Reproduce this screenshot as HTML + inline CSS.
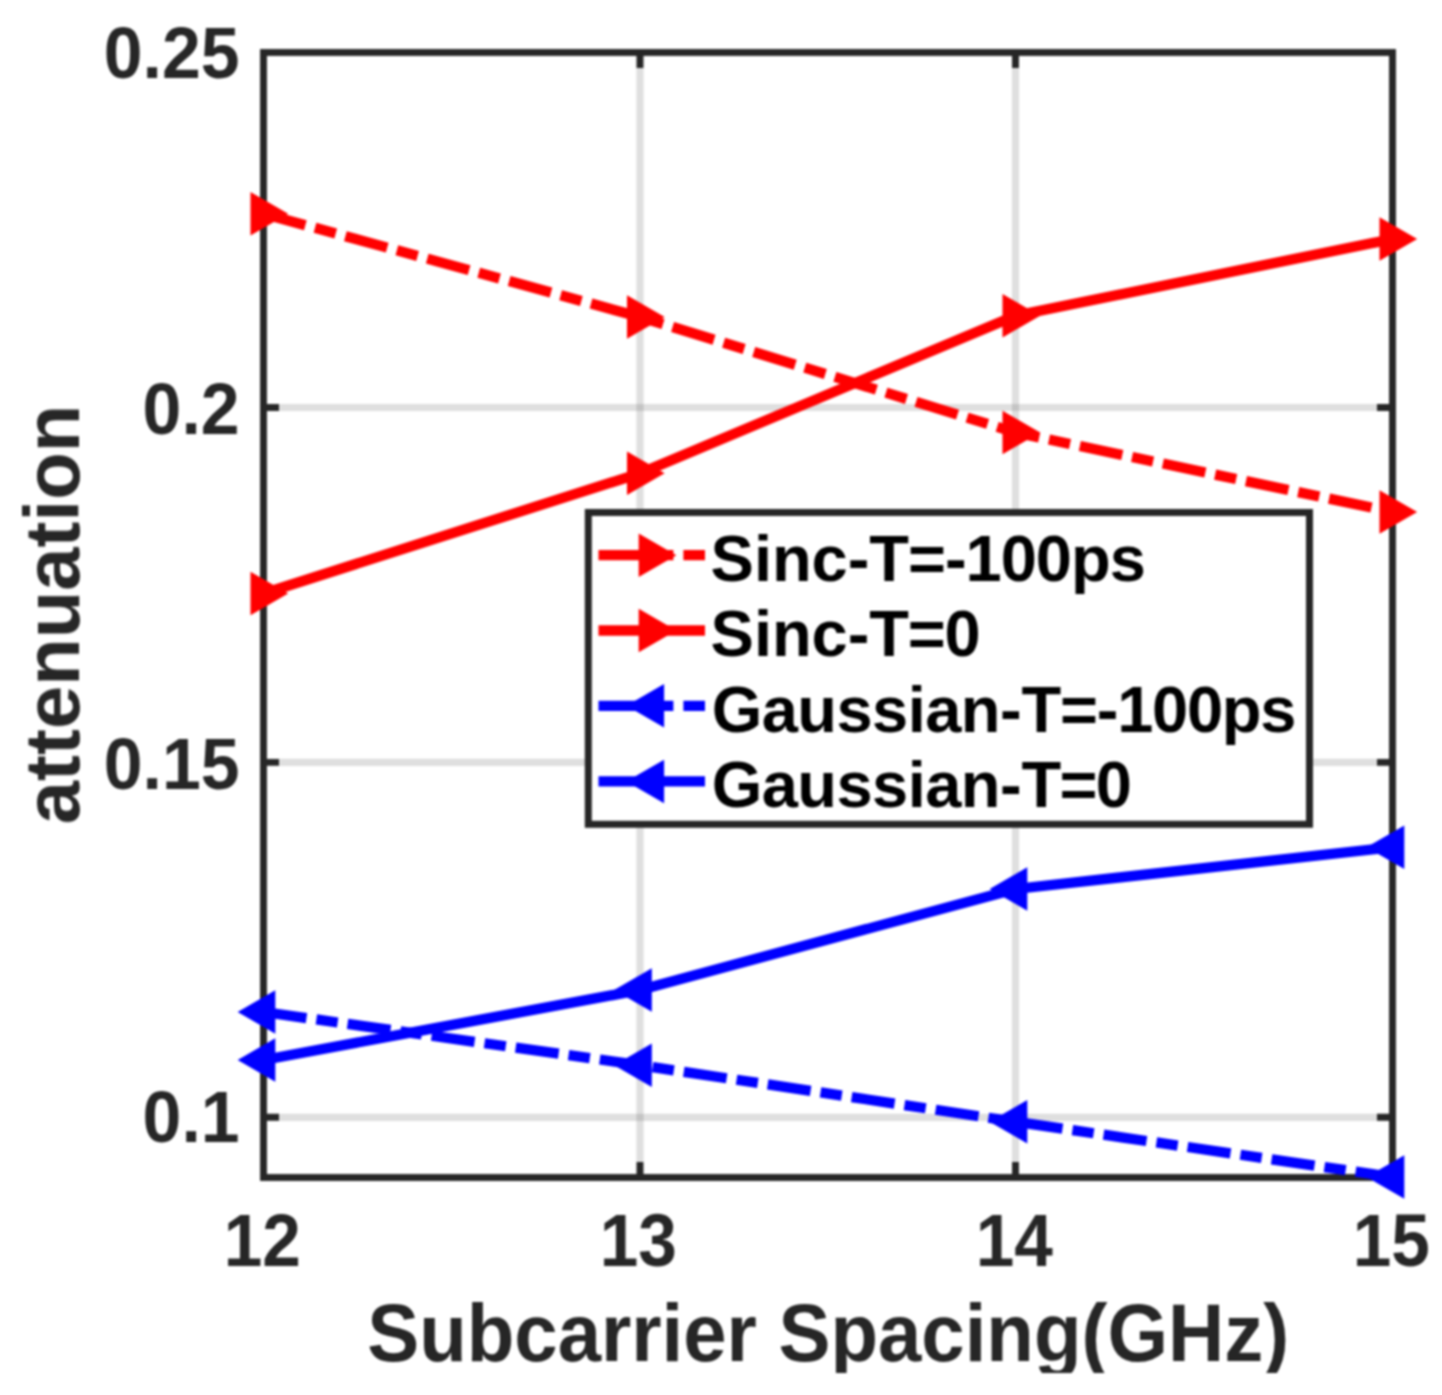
<!DOCTYPE html>
<html lang="en"><head><meta charset="utf-8"><title>attenuation vs Subcarrier Spacing</title>
<style>
html,body{margin:0;padding:0;background:#fff;}
body{width:1442px;height:1395px;overflow:hidden;}
svg{display:block;}
text{font-family:"Liberation Sans",Arial,Helvetica,sans-serif;font-weight:bold;}
.tk{font-size:72.6px;fill:#262626;}
.lb{font-size:81px;fill:#262626;}
.lg{font-size:65px;fill:#000;}
</style></head><body>
<svg width="1442" height="1395" viewBox="0 0 1442 1395">
<rect x="0" y="0" width="1442" height="1395" fill="#fff"/>
<defs><filter id="soft" color-interpolation-filters="sRGB" x="0" y="0" width="1442" height="1395" filterUnits="userSpaceOnUse"><feGaussianBlur stdDeviation="0.9"/></filter></defs>
<g id="chart" filter="url(#soft)">

<g stroke="#262626" stroke-opacity="0.15" stroke-width="7.2" fill="none">
<path d="M640.0 52.5V1177.5"/>
<path d="M1015.5 52.5V1177.5"/>
<path d="M263.5 407.5H1392.5"/>
<path d="M263.5 762.4H1392.5"/>
<path d="M263.5 1117.3H1392.5"/>
</g>
<g stroke="#262626" stroke-width="6.9" fill="none">
<rect x="263.5" y="52.5" width="1129.0" height="1125.0"/>
<path d="M640.0 1177.5v-15.5M640.0 52.5v15.5"/>
<path d="M1015.5 1177.5v-15.5M1015.5 52.5v15.5"/>
<path d="M263.5 407.5h15.5M1392.5 407.5h-15.5"/>
<path d="M263.5 762.4h15.5M1392.5 762.4h-15.5"/>
<path d="M263.5 1117.3h15.5M1392.5 1117.3h-15.5"/>
</g>
<g fill="none" stroke-width="10.3" stroke-linejoin="miter">
<path d="M263.50 213.70L640.00 317.00L1015.50 432.50L1392.50 512.00" stroke="#f00" stroke-dasharray="43.4 10 21.5 10"/>
<path d="M263.50 593.50L640.00 473.30L1015.50 315.70L1392.50 239.00" stroke="#f00"/>
<path d="M263.50 1012.00L640.00 1065.20L1015.50 1121.80L1392.50 1177.00" stroke="#00f" stroke-dasharray="43.4 10 21.5 10"/>
<path d="M263.50 1060.00L640.00 990.00L1015.50 889.00L1392.50 847.20" stroke="#00f"/>
</g>
<g fill="#f00">
<path d="M250.50 191.95L250.50 235.45L288.17 213.70Z"/>
<path d="M627.00 295.25L627.00 338.75L664.67 317.00Z"/>
<path d="M1002.50 410.75L1002.50 454.25L1040.17 432.50Z"/>
<path d="M1379.50 490.25L1379.50 533.75L1417.17 512.00Z"/>
<path d="M250.50 571.75L250.50 615.25L288.17 593.50Z"/>
<path d="M627.00 451.55L627.00 495.05L664.67 473.30Z"/>
<path d="M1002.50 293.95L1002.50 337.45L1040.17 315.70Z"/>
<path d="M1379.50 217.25L1379.50 260.75L1417.17 239.00Z"/>
</g><g fill="#00f">
<path d="M275.30 990.25L275.30 1033.75L237.63 1012.00Z"/>
<path d="M651.80 1043.45L651.80 1086.95L614.13 1065.20Z"/>
<path d="M1027.30 1100.05L1027.30 1143.55L989.63 1121.80Z"/>
<path d="M1404.30 1155.25L1404.30 1198.75L1366.63 1177.00Z"/>
<path d="M275.30 1038.25L275.30 1081.75L237.63 1060.00Z"/>
<path d="M651.80 968.25L651.80 1011.75L614.13 990.00Z"/>
<path d="M1027.30 867.25L1027.30 910.75L989.63 889.00Z"/>
<path d="M1404.30 825.45L1404.30 868.95L1366.63 847.20Z"/>
</g>
<rect x="588.3" y="512.5" width="721.2" height="311.79999999999995" fill="#fff" stroke="#262626" stroke-width="7"/>
<path d="M598.5 555.2H705" stroke="#f00" stroke-width="10.3" fill="none" stroke-dasharray="43.4 10 21.5 10"/>
<path d="M638.70 533.45L638.70 576.95L676.37 555.20Z" fill="#f00"/>
<path d="M598.5 630.5H705" stroke="#f00" stroke-width="10.3" fill="none"/>
<path d="M638.70 608.75L638.70 652.25L676.37 630.50Z" fill="#f00"/>
<path d="M598.5 705.8H705" stroke="#00f" stroke-width="10.3" fill="none" stroke-dasharray="43.4 10 21.5 10"/>
<path d="M664.10 684.05L664.10 727.55L626.43 705.80Z" fill="#00f"/>
<path d="M598.5 781.4H705" stroke="#00f" stroke-width="10.3" fill="none"/>
<path d="M664.10 759.65L664.10 803.15L626.43 781.40Z" fill="#00f"/>
<text id="lg0" class="lg" y="581.3"><tspan x="710.6" textLength="158.7" lengthAdjust="spacing">Sinc-</tspan><tspan x="869.3" textLength="276.5" lengthAdjust="spacing">T=-100ps</tspan></text>
<text id="lg1" class="lg" y="656.2"><tspan x="710.6" textLength="158.7" lengthAdjust="spacing">Sinc-</tspan><tspan x="869.3" textLength="111.4" lengthAdjust="spacing">T=0</tspan></text>
<text id="lg2" class="lg" y="731.8"><tspan x="711.7" textLength="309.9" lengthAdjust="spacing">Gaussian-</tspan><tspan x="1021.6" textLength="274.8" lengthAdjust="spacing">T=-100ps</tspan></text>
<text id="lg3" class="lg" y="807.3"><tspan x="711.7" textLength="309.9" lengthAdjust="spacing">Gaussian-</tspan><tspan x="1021.6" textLength="110.2" lengthAdjust="spacing">T=0</tspan></text>
<text id="yt0" class="tk" text-anchor="end" x="239.6" y="77.6" textLength="135.8" lengthAdjust="spacingAndGlyphs">0.25</text>
<text id="yt1" class="tk" text-anchor="end" x="239.6" y="433.9" textLength="97.0" lengthAdjust="spacingAndGlyphs">0.2</text>
<text id="yt2" class="tk" text-anchor="end" x="239.6" y="788.8" textLength="135.8" lengthAdjust="spacingAndGlyphs">0.15</text>
<text id="yt3" class="tk" text-anchor="end" x="239.6" y="1142.0" textLength="97.0" lengthAdjust="spacingAndGlyphs">0.1</text>
<text id="xt0" class="tk" style="font-size:75px" text-anchor="middle" x="262.3" y="1266.0" textLength="77.2" lengthAdjust="spacingAndGlyphs">12</text>
<text id="xt1" class="tk" style="font-size:75px" text-anchor="middle" x="638.3" y="1266.0" textLength="77.2" lengthAdjust="spacingAndGlyphs">13</text>
<text id="xt2" class="tk" style="font-size:75px" text-anchor="middle" x="1014.3" y="1266.0" textLength="77.2" lengthAdjust="spacingAndGlyphs">14</text>
<text id="xt3" class="tk" style="font-size:75px" text-anchor="middle" x="1391.3" y="1266.0" textLength="77.2" lengthAdjust="spacingAndGlyphs">15</text>
<text id="xl" class="lb" x="367.2" y="1361.3" textLength="922" lengthAdjust="spacingAndGlyphs">Subcarrier Spacing(GHz)</text>
<text id="yl" class="lb" style="font-size:78px" transform="translate(79 824.3) rotate(-90)" x="0" y="0" textLength="419.5" lengthAdjust="spacingAndGlyphs">attenuation</text>
<rect x="300" y="1373" width="1100" height="22" fill="#fff"/>
</g></svg></body></html>
